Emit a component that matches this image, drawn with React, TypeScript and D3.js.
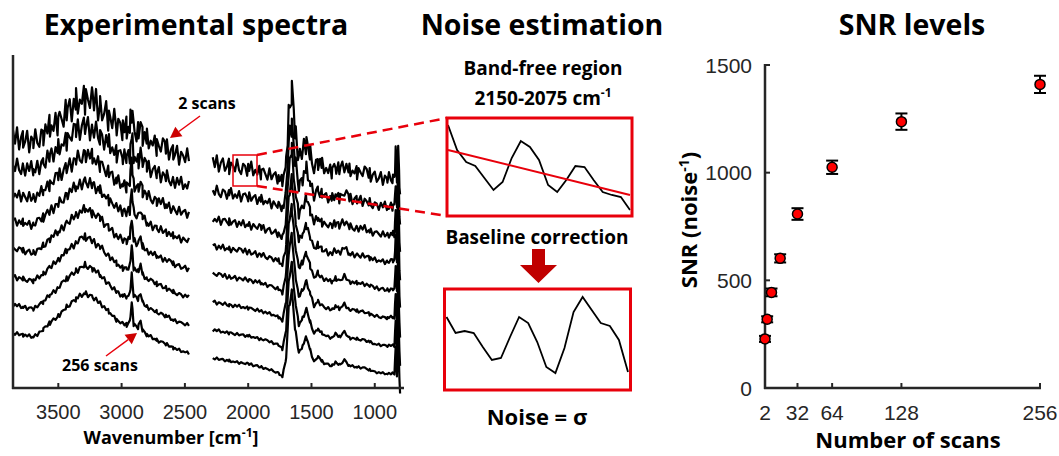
import React from 'react';
import * as d3 from 'd3';

const W = 1059;
const H = 456;

// base spectrum (256 scans), read as key points: wavenumber / intensity (a.u.)
const leftWn = [3858, 3780, 3697, 3620, 3566, 3500, 3434, 3360, 3289, 3230, 3171, 3100, 3039, 2990, 2960, 2935, 2920, 2905, 2870, 2850, 2835, 2800, 2723, 2650, 2592, 2530, 2468];
const leftInt = [55, 53, 51, 58, 65, 72, 81, 89, 95, 91, 85, 76, 68, 64, 63, 66, 86, 64, 60, 68, 58, 53, 48, 44, 40, 37, 35];
const rightWn = [2280, 2150, 2000, 1900, 1800, 1760, 1730, 1700, 1680, 1655, 1630, 1600, 1570, 1540, 1510, 1480, 1450, 1420, 1400, 1340, 1310, 1280, 1240, 1200, 1140, 1080, 1040, 1000, 900, 860, 845, 835, 825, 815, 805, 800];
const rightInt = [30, 27, 24, 21, 17, 15, 11, 30, 80, 97, 60, 35, 42, 51, 38, 26, 31, 27, 25, 22, 26, 23, 28, 22, 21, 20, 18, 16, 14, 15, 14, 40, 12, 55, 8, -5];

// stacked traces, top = 2 scans
const scans = [2, 4, 8, 16, 32, 64, 128, 256];
const traceOffset = [195, 167, 139, 112, 84, 56, 28, 0];
const noisePattern = [0.6, -0.4, 0.9, -0.8, 0.2, 0.7, -0.6, -0.1, 0.8, -0.9, 0.4, 0.1, -0.5, 0.9, -0.3, -0.7, 0.5, 0.3, -0.8, 0.6, -0.2, 0.95, -0.6, 0.1, -0.4, 0.7, -0.9, 0.3, 0.5, -0.1, -0.7, 0.8, -0.5, 0.2, 0.6, -0.8, 0.4, -0.3, 0.9, -0.6, 0.1, -0.2, 0.7, -0.9, 0.5, 0.0, -0.4, 0.8];

// band-free region, raw and baseline corrected
const bandRaw = [91, 66, 54, 50, 38, 26, 34, 58, 75, 69, 56, 31, 24, 36, 50, 49, 36, 24, 21, 19, 6];
const bandBaseline = [66, 21];
const bandCorrected = [73, 57, 59, 57, 43, 30, 32, 53, 73, 67, 48, 23, 17, 42, 78, 93, 80, 67, 64, 50, 18];

// SNR
const snr = [228, 319, 444, 602, 808, 1025, 1237, 1410];
const snrErr = [14, 14, 18, 19, 27, 31, 38, 40];

const wnTicks = [3500, 3000, 2500, 2000, 1500, 1000];
const snrTicks = [0, 500, 1000, 1500];
const scanTicks = [2, 32, 64, 128, 256];

const AX = '#262626';
const RED = '#e8000b';
const BOLD = '"Open Sans", Lato, sans-serif';
const SANS = '"Liberation Sans", Arial, sans-serif';

function arrowPath(x1: number, y1: number, x2: number, y2: number, len: number, half: number) {
  const a = Math.atan2(y2 - y1, x2 - x1);
  const bx = x2 - len * Math.cos(a);
  const by = y2 - len * Math.sin(a);
  const px = -Math.sin(a) * half;
  const py = Math.cos(a) * half;
  return {
    line: `M${x1},${y1}L${bx},${by}`,
    head: `M${x2},${y2}L${bx + px},${by + py}L${bx - px},${by - py}Z`,
  };
}

function buildTrace(wn: number[], inten: number[], i: number, start: number, stop: number) {
  const shape = d3.scaleLinear().domain(wn).range(inten);
  const grid = Array.from(new Set([...d3.range(start, stop, -16), ...wn])).sort((a, b) => b - a);
  const amp = 2400 / snr[i];
  return grid.map((w, j) => {
    const base = shape(w);
    const n = noisePattern[(j + i * 11) % noisePattern.length];
    return [w, base + traceOffset[i] + n * amp * (0.5 + Math.max(base, 0) / 75)] as [number, number];
  });
}

function Spectra() {
  const x = d3.scaleLinear().domain([3858, 777]).range([13, 403]);
  const y = d3.scaleLinear().domain([0, 333]).range([388, 55]);
  const line = d3.line<[number, number]>().x(d => x(d[0])).y(d => y(d[1]));
  const a1 = arrowPath(200, 116, 170, 138, 11, 6);
  const a2 = arrowPath(106, 356, 137, 333, 11, 6);
  return (
    <g>
      {scans.map((s, i) => (
        <g key={s}>
          <path d={line(buildTrace(leftWn, leftInt, i, 3858, 2467)) || ''} fill="none" stroke="#000" strokeWidth={2.2} strokeLinejoin="round" />
          <path d={line(buildTrace(rightWn, rightInt, i, 2280, 799)) || ''} fill="none" stroke="#000" strokeWidth={2.2} strokeLinejoin="round" />
        </g>
      ))}
      <line x1={13} y1={55} x2={13} y2={389} stroke={AX} strokeWidth={2.5} />
      <line x1={12} y1={388} x2={404} y2={388} stroke={AX} strokeWidth={2.5} />
      {wnTicks.map(t => (
        <g key={t}>
          <line x1={x(t)} x2={x(t)} y1={388} y2={383} stroke={AX} strokeWidth={2} />
          <text x={x(t)} y={419} textAnchor="middle" fontFamily={SANS} fontSize={20} fill={AX}>{t}</text>
        </g>
      ))}
      <text x={171} y={444} textAnchor="middle" fontFamily={BOLD} fontWeight={700} fontSize={18}>
        Wavenumber [cm<tspan dy={-7} fontSize={12}>-1</tspan><tspan dy={7}>]</tspan>
      </text>
      <text x={207} y={109} textAnchor="middle" fontFamily={BOLD} fontWeight={700} fontSize={16}>2 scans</text>
      <path d={a1.line} stroke={RED} strokeWidth={1.5} />
      <path d={a1.head} fill="#cc0000" />
      <text x={100} y={371} textAnchor="middle" fontFamily={BOLD} fontWeight={700} fontSize={16}>256 scans</text>
      <path d={a2.line} stroke={RED} strokeWidth={1.5} />
      <path d={a2.head} fill="#cc0000" />
      {/* zoomed region marker */}
      <rect x={233} y={155} width={24} height={31} fill="none" stroke={RED} strokeWidth={1.5} />
      <line x1={257} y1={155} x2={447} y2={118} stroke={RED} strokeWidth={2.5} strokeDasharray="10,6" />
      <line x1={257} y1={186} x2={447} y2={216} stroke={RED} strokeWidth={2.5} strokeDasharray="10,6" />
    </g>
  );
}

function Noise() {
  const xb = d3.scaleLinear().domain([0, bandRaw.length - 1]).range([448, 630]);
  const yb = d3.scaleLinear().domain([0, 98]).range([216, 118]);
  const xc = d3.scaleLinear().domain([0, bandCorrected.length - 1]).range([446.5, 628]);
  const yc = d3.scaleLinear().domain([0, 101]).range([390, 289]);
  const l1 = d3.line<number>().x((_, i) => xb(i)).y(d => yb(d));
  const l2 = d3.line<number>().x((_, i) => xc(i)).y(d => yc(d));
  return (
    <g>
      <text x={543} y={75} textAnchor="middle" fontFamily={BOLD} fontWeight={700} fontSize={19}>Band-free region</text>
      <text x={543} y={105} textAnchor="middle" fontFamily={BOLD} fontWeight={700} fontSize={19}>
        2150-2075 cm<tspan dy={-8} fontSize={12}>-1</tspan>
      </text>
      <path d={l1(bandRaw) || ''} fill="none" stroke="#000" strokeWidth={1.8} />
      <line x1={xb(0)} y1={yb(bandBaseline[0])} x2={xb(bandRaw.length - 1)} y2={yb(bandBaseline[1])} stroke={RED} strokeWidth={2} />
      <rect x={447} y={118} width={185} height={98} fill="none" stroke={RED} strokeWidth={3} />
      <text x={537} y={244} textAnchor="middle" fontFamily={BOLD} fontWeight={700} fontSize={19}>Baseline correction</text>
      <path d="M532,249L545,249L545,265L557,265L538.5,283L520,265L532,265Z" fill="#c00000" />
      <path d={l2(bandCorrected) || ''} fill="none" stroke="#000" strokeWidth={1.8} />
      <rect x={444.5} y={289} width={186} height={101} fill="none" stroke={RED} strokeWidth={3} />
      <text x={537} y={425} textAnchor="middle" fontFamily={BOLD} fontWeight={700} fontSize={22}>Noise = σ</text>
    </g>
  );
}

function SnrChart() {
  const x = d3.scaleLinear().domain([2, 256]).range([765, 1040]);
  const y = d3.scaleLinear().domain([0, 1500]).range([388, 65]);
  return (
    <g>
      <line x1={765} y1={64} x2={765} y2={389} stroke={AX} strokeWidth={2.5} />
      <line x1={764} y1={388} x2={1041} y2={388} stroke={AX} strokeWidth={2.5} />
      {snrTicks.map(t => (
        <g key={t}>
          <line x1={765} x2={770} y1={y(t)} y2={y(t)} stroke={AX} strokeWidth={2} />
          <text x={752} y={y(t)} dy="0.36em" textAnchor="end" fontFamily={SANS} fontSize={21} fill={AX}>{t}</text>
        </g>
      ))}
      {scanTicks.map(t => (
        <g key={t}>
          <line x1={x(t)} x2={x(t)} y1={388} y2={383} stroke={AX} strokeWidth={2} />
          <text x={x(t)} y={420} textAnchor="middle" fontFamily={SANS} fontSize={21} fill={AX}>{t}</text>
        </g>
      ))}
      {scans.map((s, i) => (
        <g key={s}>
          <line x1={x(s)} x2={x(s)} y1={y(snr[i] - snrErr[i])} y2={y(snr[i] + snrErr[i])} stroke="#000" strokeWidth={2} />
          <line x1={x(s) - 6} x2={x(s) + 6} y1={y(snr[i] - snrErr[i])} y2={y(snr[i] - snrErr[i])} stroke="#000" strokeWidth={2} />
          <line x1={x(s) - 6} x2={x(s) + 6} y1={y(snr[i] + snrErr[i])} y2={y(snr[i] + snrErr[i])} stroke="#000" strokeWidth={2} />
          <circle cx={x(s)} cy={y(snr[i])} r={5} fill="#ff0000" stroke="#000" strokeWidth={1.5} />
        </g>
      ))}
      <text x={908} y={448} textAnchor="middle" fontFamily={BOLD} fontWeight={700} fontSize={22}>Number of scans</text>
      <text transform="translate(697,220) rotate(-90)" textAnchor="middle" fontFamily={BOLD} fontWeight={700} fontSize={22}>
        SNR (noise<tspan dy={-8} fontSize={14}>-1</tspan><tspan dy={8}>)</tspan>
      </text>
    </g>
  );
}

export default function App() {
  return (
    <svg width={W} height={H} style={{ position: 'absolute', left: 0, top: 0, background: '#fff' }}>
      <text x={196} y={35} textAnchor="middle" fontFamily={BOLD} fontWeight={700} fontSize={28.5}>Experimental spectra</text>
      <text x={542} y={35} textAnchor="middle" fontFamily={BOLD} fontWeight={700} fontSize={28.5}>Noise estimation</text>
      <text x={912} y={35} textAnchor="middle" fontFamily={BOLD} fontWeight={700} fontSize={28.5}>SNR levels</text>
      <Spectra />
      <Noise />
      <SnrChart />
    </svg>
  );
}
